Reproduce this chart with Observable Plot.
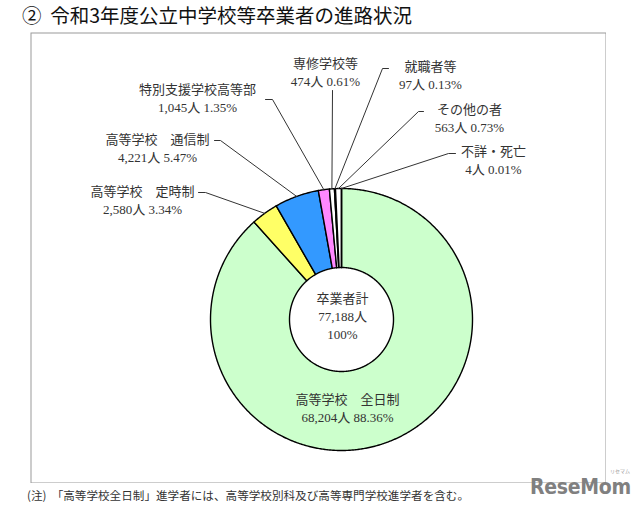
<!DOCTYPE html>
<html><head><meta charset="utf-8">
<script src="https://cdn.jsdelivr.net/npm/d3@7"></script>
<script src="https://cdn.jsdelivr.net/npm/@observablehq/plot@0.6"></script>
<style>
html,body{margin:0;padding:0;background:#fff;}
body{width:640px;height:510px;position:relative;overflow:hidden;font-family:"Noto Sans CJK JP",sans-serif;}
#title{position:absolute;left:22px;top:3px;font-size:19.5px;font-weight:400;color:#111;white-space:pre;line-height:24px;}
#chart{position:absolute;left:30px;top:32px;}
#note{position:absolute;left:27px;top:487px;font-size:11.6px;color:#333;white-space:pre;line-height:16px;}
#logo{position:absolute;left:530px;top:474px;font-family:"DejaVu Sans Condensed","DejaVu Sans",sans-serif;font-weight:bold;font-size:21px;color:#808080;letter-spacing:-0.3px;line-height:26px;}
#logo small{position:absolute;left:80px;top:-6px;font-size:5px;line-height:6px;font-family:"Noto Sans CJK JP";font-weight:normal;color:#999;letter-spacing:0;}
</style></head><body>
<div id="title"></div>
<div id="chart"></div>
<div id="note"></div>
<div id="logo">ReseMom<small>リセマム</small></div>
<script>
// ---- data ----
const titleText = "②  令和3年度公立中学校等卒業者の進路状況";
const noteText = "(注)  「高等学校全日制」進学者には、高等学校別科及び高等専門学校進学者を含む。";
const categories = ["高等学校　全日制","高等学校　定時制","高等学校　通信制","特別支援学校高等部","専修学校等","就職者等","その他の者","不詳・死亡"];
const counts = [68204, 2580, 4221, 1045, 474, 97, 563, 4];
const percents = [88.36, 3.34, 5.47, 1.35, 0.61, 0.13, 0.73, 0.01];
const totalLabel = ["卒業者計", "77,188人", "100%"];
const colors = ["#ccffcc","#ffff66","#3399ff","#ff88ff","#ffffff","#ffffff","#ffffff","#ffffff"];

// ---- layout (page coordinates) ----
const OX = 30, OY = 32, W = 576, H = 451;
const center = [341, 319], rOuter = 131, rInner = 52;
const labelPos = [[347,406.5],[142,198.5],[157,147],[197,97],[325,71],[430,74],[469,117],[493,158.5]];
const leaderStart = [null, [[198,192],[205,192]], [[214,140],[220,140]], [[265,99],[272,99]], [[332,90]], [[388,68],[382,68]], [[423,111],[418,111]], [[455,153],[448,153]]];
const totalPos = [342, 314.5];

document.getElementById("title").textContent = titleText;
document.getElementById("note").textContent = noteText;

const cx = center[0]-OX, cy = center[1]-OY;
const pt = (a, r) => [cx + r*Math.sin(a), cy - r*Math.cos(a)];
const arcs = d3.pie().sort(null).value(d => d)(counts);

const features = arcs.map((a, i) => {
  const n = Math.max(2, Math.ceil((a.endAngle - a.startAngle) / (Math.PI/360)));
  const ring = [];
  for (let k = 0; k <= n; k++) ring.push(pt(a.startAngle + (a.endAngle - a.startAngle)*k/n, rOuter));
  for (let k = n; k >= 0; k--) ring.push(pt(a.startAngle + (a.endAngle - a.startAngle)*k/n, rInner));
  ring.push(ring[0]);
  return {type:"Feature", properties:{category: categories[i]}, geometry:{type:"Polygon", coordinates:[ring]}};
});

const leaders = [];
arcs.forEach((a, i) => {
  if (!leaderStart[i]) return;
  leaderStart[i].forEach(p => leaders.push({id:i, x:p[0]-OX, y:p[1]-OY}));
  const e = pt((a.startAngle + a.endAngle)/2, rOuter);
  leaders.push({id:i, x:e[0], y:e[1]});
});

const fmt = d3.format(",");
const labels = categories.map((c, i) => ({
  text: c + "\n" + fmt(counts[i]) + "人 " + percents[i].toFixed(2) + "%",
  x: labelPos[i][0]-OX, y: labelPos[i][1]-OY
}));
labels.push({text: totalLabel.join("\n"), x: totalPos[0]-OX, y: totalPos[1]-OY});

const chart = Plot.plot({
  width: W, height: H, margin: 0,
  x: {domain:[0,W], range:[0,W], axis:null},
  y: {domain:[0,H], range:[0,H], axis:null},
  color: {domain: categories, range: colors},
  style: {background:"white"},
  marks: [
    Plot.frame({stroke:"#9a9a9a", inset:0.5}),
    Plot.geo(features, {fill: d => d.properties.category, stroke:"#000", strokeWidth:1.4, strokeLinejoin:"round"}),
    Plot.line(leaders, {x:"x", y:"y", z:"id", stroke:"#333", strokeWidth:1}),
    Plot.text(labels, {x:"x", y:"y", text:"text", fontSize:13, lineHeight:1.38, fill:"#333",
      fontFamily:"'Liberation Serif','Noto Sans CJK JP',serif", textAnchor:"middle"})
  ]
});
document.getElementById("chart").appendChild(chart);
</script>
</body></html>
